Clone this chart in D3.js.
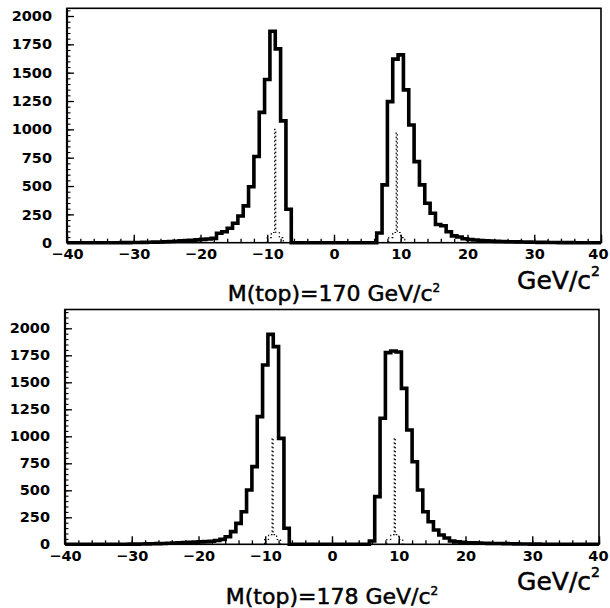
<!DOCTYPE html>
<html>
<head>
<meta charset="utf-8">
<script src="https://cdn.jsdelivr.net/npm/d3@7"></script>
<style>
  body { margin: 0; background: #fff; }
  svg { display: block; }
</style>
</head>
<body>
<svg id="chart" width="610" height="608"></svg>
<script>
// ---- data ----------------------------------------------------------------
// 100 bins of 0.8 GeV/c^2 spanning [-40, 40]
const xDomain = [-40, 40];
const binWidth = 0.8;
const xMajorTicks = [-40, -30, -20, -10, 0, 10, 20, 30, 40];
const yMajorTicks = [0, 250, 500, 750, 1000, 1250, 1500, 1750, 2000];
const yMaxByPanel = [2068, 2174];
const topMasses = ["170", "178"];

// reconstructed mass-difference counts, M(top) = 170 GeV/c^2
const counts170 = [
  0, 0, 0, 0, 0, 0, 0, 0, 0, 0,
  1, 1, 2, 2, 3, 4, 5, 6, 8, 10,
  13, 16, 19, 22, 25, 29, 33, 38, 83, 97,
  127, 171, 235, 325, 494, 760, 1150, 1440, 1865, 1710,
  1075, 295, 0, 0, 0, 0, 0, 0, 0, 0,
  0, 0, 0, 0, 0, 0, 0, 0, 85, 510,
  1245, 1620, 1657, 1348, 1039, 715, 510, 348, 260, 160,
  150, 97, 60, 50, 35, 28, 24, 20, 17, 15,
  12, 10, 9, 8, 7, 6, 5, 4, 3, 3,
  2, 2, 1, 1, 1, 0, 0, 0, 0, 0
];

// reconstructed mass-difference counts, M(top) = 178 GeV/c^2
const counts178 = [
  0, 0, 0, 0, 0, 0, 0, 0, 0, 0,
  1, 1, 2, 2, 3, 4, 5, 6, 8, 10,
  12, 14, 16, 18, 20, 22, 25, 28, 35, 46,
  70, 117, 194, 302, 503, 719, 1182, 1660, 1944, 1830,
  981, 148, 0, 0, 0, 0, 0, 0, 0, 0,
  0, 0, 0, 0, 0, 0, 0, 30, 441, 1167,
  1775, 1790, 1780, 1444, 1058, 765, 503, 302, 209, 132,
  86, 58, 31, 22, 18, 15, 13, 11, 10, 9,
  8, 7, 6, 5, 4, 3, 3, 2, 2, 1,
  1, 1, 0, 0, 0, 0, 0, 0, 0, 0
];

// narrow generator-level spikes (dotted)
const refCenters170 = [-8.8, 9.4];
const refPeaks170 = [1000, 970];
const refCenters178 = [-8.9, 9.4];
const refPeaks178 = [985, 985];
const refEdgeOffsets = [-1.2, -0.6, -0.08, 0.08, 0.6, 1.2];
const refShoulders = [45, 90];

// ---- layout --------------------------------------------------------------
const panels = [
  { counts: counts170, refC: refCenters170, refP: refPeaks170,
    left: 67, right: 601, top: 8.3, bottom: 242.7, titleY: 300.5 },
  { counts: counts178, refC: refCenters178, refP: refPeaks178,
    left: 65, right: 599, top: 309.5, bottom: 544.3, titleY: 603.5 }
];

const svg = d3.select("#chart");
const FONT = "'DejaVu Sans', 'Liberation Sans', sans-serif";
const PAGE_RIGHT = 608;

panels.forEach((p, k) => {
  const x = d3.scaleLinear().domain(xDomain).range([p.left, p.right]);
  const y = d3.scaleLinear().domain([0, yMaxByPanel[k]]).range([p.bottom, p.top]);
  const g = svg.append("g");

  // frame
  g.append("rect")
    .attr("x", p.left).attr("y", p.top)
    .attr("width", p.right - p.left).attr("height", p.bottom - p.top)
    .attr("fill", "none").attr("stroke", "#000").attr("stroke-width", 1.6);
  g.append("line")
    .attr("x1", p.left).attr("x2", p.left).attr("y1", p.top).attr("y2", p.bottom)
    .attr("stroke", "#000").attr("stroke-width", 2.2);

  // x axis: minor ticks every 2, major every 10, ticks point inward
  const xMinor = d3.range(xDomain[0], xDomain[1] + 0.001, 2);
  g.append("g").attr("transform", `translate(0,${p.bottom})`)
    .call(d3.axisBottom(x).tickValues(xMinor).tickSize(-4).tickFormat(""))
    .call(a => a.select(".domain").remove())
    .call(a => a.selectAll("line").attr("stroke-width", 1.3));
  g.append("g").attr("transform", `translate(0,${p.bottom})`)
    .call(d3.axisBottom(x).tickValues(xMajorTicks).tickSize(-8).tickPadding(6.5))
    .call(a => a.select(".domain").remove())
    .call(a => a.selectAll("line").attr("stroke-width", 1.4))
    .call(a => a.selectAll("text")
      .attr("font-family", FONT).attr("font-weight", "bold")
      .attr("font-size", 14.5).attr("fill", "#000"))
    // the last label sits against the page edge: keep it inside
    .call(a => a.selectAll(".tick").filter(d => d === xDomain[1]).select("text")
      .attr("text-anchor", "end").attr("x", PAGE_RIGHT - x(xDomain[1])));

  // y axis: minor ticks every 50, major every 250
  const yMinor = d3.range(0, yMaxByPanel[k], 50);
  g.append("g").attr("transform", `translate(${p.left},0)`)
    .call(d3.axisLeft(y).tickValues(yMinor).tickSize(-3.5).tickFormat(""))
    .call(a => a.select(".domain").remove())
    .call(a => a.selectAll("line").attr("stroke-width", 1.1));
  g.append("g").attr("transform", `translate(${p.left},0)`)
    .call(d3.axisLeft(y).tickValues(yMajorTicks).tickSize(-7).tickPadding(15)
      .tickFormat(d3.format("d")))
    .call(a => a.select(".domain").remove())
    .call(a => a.selectAll("line").attr("stroke-width", 1.3))
    .call(a => a.selectAll("text")
      .attr("font-family", FONT).attr("font-weight", "bold")
      .attr("font-size", 14.5).attr("fill", "#000"));

  // dotted generator-level spikes
  p.refC.forEach((c, j) => {
    const vals = [refShoulders[0], refShoulders[1], p.refP[j], refShoulders[1], refShoulders[0]];
    const pts = [[x(c + refEdgeOffsets[0]), y(0)]];
    vals.forEach((v, i) => {
      pts.push([x(c + refEdgeOffsets[i]), y(v)]);
      pts.push([x(c + refEdgeOffsets[i + 1]), y(v)]);
    });
    pts.push([x(c + refEdgeOffsets[refEdgeOffsets.length - 1]), y(0)]);
    g.append("path")
      .attr("d", d3.line()(pts))
      .attr("fill", "none").attr("stroke", "#000")
      .attr("stroke-width", 1.1).attr("stroke-dasharray", "1.6,2.4");
  });

  // reconstructed histogram (thick step outline)
  const pts = [[x(xDomain[0]), y(0)]];
  p.counts.forEach((v, i) => {
    const lo = xDomain[0] + i * binWidth;
    pts.push([x(lo), y(v)]);
    pts.push([x(lo + binWidth), y(v)]);
  });
  pts.push([x(xDomain[1]), y(0)]);
  g.append("path")
    .attr("d", d3.line()(pts))
    .attr("fill", "none").attr("stroke", "#000")
    .attr("stroke-width", 3.6).attr("stroke-linejoin", "miter");

  // axis unit label
  const unit = g.append("text")
    .attr("x", 600).attr("y", p.bottom + 46)
    .attr("text-anchor", "end")
    .attr("font-family", FONT).attr("font-size", 25)
    .attr("fill", "#000").attr("stroke", "#000").attr("stroke-width", 0.5);
  unit.append("tspan").text("GeV/c");
  unit.append("tspan").attr("font-size", 14).attr("dy", -13).text("2");

  // panel caption
  const cap = g.append("text")
    .attr("x", (p.left + p.right) / 2).attr("y", p.titleY)
    .attr("text-anchor", "middle")
    .attr("font-family", FONT).attr("font-size", 22)
    .attr("fill", "#000").attr("stroke", "#000").attr("stroke-width", 0.5);
  cap.append("tspan").text(`M(top)=${topMasses[k]} GeV/c`);
  cap.append("tspan").attr("font-size", 12).attr("dy", -9).text("2");
});
</script>
</body>
</html>
